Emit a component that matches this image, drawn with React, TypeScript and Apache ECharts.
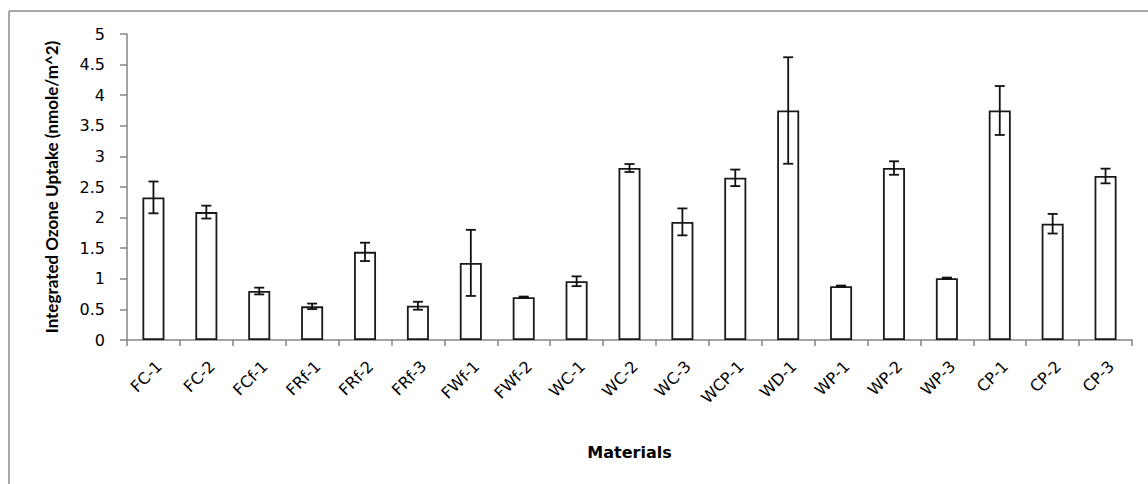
import React, { useEffect, useRef } from "react";
import * as echarts from "echarts";

const categories = ["FC-1", "FC-2", "FCf-1", "FRf-1", "FRf-2", "FRf-3", "FWf-1", "FWf-2", "WC-1", "WC-2", "WC-3", "WCP-1", "WD-1", "WP-1", "WP-2", "WP-3", "CP-1", "CP-2", "CP-3"];
const values = [2.33, 2.09, 0.8, 0.55, 1.44, 0.56, 1.26, 0.7, 0.96, 2.81, 1.93, 2.65, 3.75, 0.88, 2.81, 1.01, 3.75, 1.9, 2.68];
const errors = [0.26, 0.105, 0.055, 0.045, 0.15, 0.065, 0.54, 0.01, 0.08, 0.065, 0.22, 0.135, 0.87, 0.01, 0.11, 0.01, 0.4, 0.16, 0.12];
const yTitle = "Integrated Ozone Uptake (nmole/m^2)";
const xTitle = "Materials";

export default function App() {
  const ref = useRef<HTMLDivElement>(null);
  useEffect(() => {
    if (!ref.current) return;
    const chart = echarts.init(ref.current, null, { renderer: "svg" });
    const errData = values.map((v, i) => [i, v - errors[i], v + errors[i]]);
    chart.setOption({
      animation: false,
      backgroundColor: "#ffffff",
      grid: { left: 127, right: 16, top: 34, bottom: 144, containLabel: false },
      graphic: [
        { type: "line", shape: { x1: 9, y1: 11, x2: 1148, y2: 11 }, style: { stroke: "#8c8c8c", lineWidth: 1.5 } },
        { type: "line", shape: { x1: 9, y1: 11, x2: 9, y2: 484 }, style: { stroke: "#8c8c8c", lineWidth: 1.5 } },
      ],
      xAxis: {
        type: "category",
        data: categories,
        boundaryGap: true,
        name: xTitle,
        nameLocation: "middle",
        nameGap: 104,
        nameTextStyle: { fontFamily: "DejaVu Sans", fontWeight: "bold", fontSize: 16, color: "#000", verticalAlign: "top" },
        axisLine: { lineStyle: { color: "#868686", width: 1.5 } },
        axisTick: { show: true, length: 6, alignWithLabel: false, lineStyle: { color: "#868686", width: 1.5 } },
        axisLabel: { interval: 0, rotate: 45, margin: 18, verticalAlign: "top", fontFamily: "DejaVu Sans", fontSize: 16, color: "#000" },
        splitLine: { show: false },
      },
      yAxis: {
        type: "value",
        min: 0,
        max: 5,
        interval: 0.5,
        name: yTitle,
        nameLocation: "middle",
        nameGap: 67,
        nameTextStyle: { fontFamily: "Lato", fontWeight: "bold", fontSize: 17, color: "#000" },
        axisLine: { show: true, lineStyle: { color: "#868686", width: 1.5 } },
        axisTick: { show: true, length: 7, lineStyle: { color: "#868686", width: 1.5 } },
        axisLabel: { margin: 22, fontFamily: "DejaVu Sans", fontSize: 16, color: "#000" },
        splitLine: { show: false },
      },
      series: [
        {
          type: "bar",
          data: values,
          barWidth: 22,
          itemStyle: { color: "#ffffff", borderColor: "#1a1a1a", borderWidth: 1.8 },
          z: 2,
        },
        {
          type: "custom",
          data: errData,
          encode: { x: 0, y: [1, 2] },
          z: 3,
          renderItem: (params: any, api: any) => {
            const x = api.value(0);
            const lo = api.coord([x, api.value(1)]);
            const hi = api.coord([x, api.value(2)]);
            const cap = 5;
            const style = { stroke: "#111", lineWidth: 1.8 };
            return {
              type: "group",
              children: [
                { type: "line", shape: { x1: lo[0], y1: lo[1], x2: hi[0], y2: hi[1] }, style },
                { type: "line", shape: { x1: hi[0] - cap, y1: hi[1], x2: hi[0] + cap, y2: hi[1] }, style },
                { type: "line", shape: { x1: lo[0] - cap, y1: lo[1], x2: lo[0] + cap, y2: lo[1] }, style },
              ],
            };
          },
        },
      ],
    });
    return () => chart.dispose();
  }, []);
  return <div ref={ref} style={{ position: "absolute", left: 0, top: 0, width: 1148, height: 484 }} />;
}
